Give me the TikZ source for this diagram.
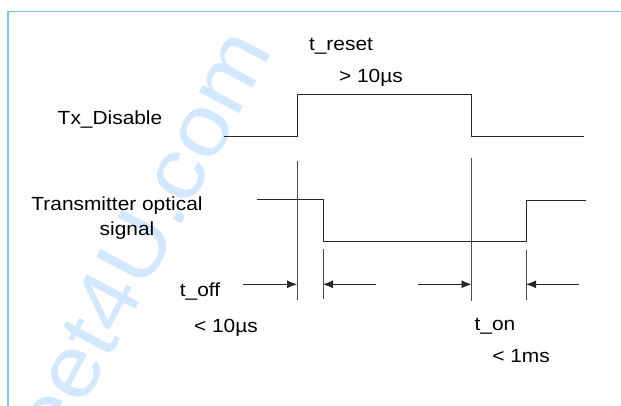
\documentclass[tikz,border=0pt]{standalone}
\usepackage{fontspec}
\setmainfont[FakeStretch=1.1]{Liberation Sans}
\usetikzlibrary{arrows.meta}
\definecolor{framecol}{RGB}{120,200,255}
\definecolor{markcol}{RGB}{210,232,255}
\tikzset{
	lbl/.style={inner sep=0pt, anchor=base, font=\fontsize{19}{22}\selectfont},
	wave/.style={line width=0.8pt, black!85},
	marker/.style={line width=0.8pt, black!70},
	timearrow/.style={line width=0.8pt, black!85, -{Latex[length=10pt,width=8pt]}},
}
\begin{document}
\begin{tikzpicture}[x=1pt,y=-1pt]
	\useasboundingbox (0,0) rectangle (621,406);
	\clip (0,0) rectangle (621,406);
	% watermark and frame
	\node[markcol, rotate=62, anchor=base east, inner sep=0pt, font=\fontsize{86}{90}\selectfont] (wm) at (274,50) {datasheet4U.com};
	\draw[framecol, line width=1.6pt] (8,410) -- (8,11.5) -- (625,11.5);
	
	% labels
	\node[lbl] (treset) at (341,51) {t\_reset};
	\node[lbl] (tresetval) at (371,83) {> 10µs};
	\node[lbl] (txdis) at (110,125) {Tx\_Disable};
	\node[lbl] (optic) at (117,210.5) {Transmitter optical};
	\node[lbl] (signal) at (127,236) {signal};
	\node[lbl] (toff) at (200,296.5) {t\_off};
	\node[lbl] (toffval) at (226,332) {< 10µs};
	\node[lbl] (ton) at (495,330) {t\_on};
	\node[lbl] (tonval) at (521,362) {< 1ms};
	
	% waveforms
	\draw[wave] (224,136) -- (297,136) -- (297,94.7) -- (471.5,94.7) -- (471.5,136) -- (584,136);
	\draw[wave] (257,199) -- (323,199) -- (323,241.7) -- (526,241.7) -- (526,200) -- (586,200);
	
	% timing markers
	\coordinate (dis top) at (297,160.7);
	\coordinate (dis bot) at (297,300);
	\coordinate (off top) at (323,249);
	\coordinate (off bot) at (323,299);
	\coordinate (en top) at (471.5,158);
	\coordinate (en bot) at (471.5,300.7);
	\coordinate (on top) at (526,250);
	\coordinate (on bot) at (526,300);
	\draw[marker] (dis top) -- (dis bot);
	\draw[marker] (off top) -- (off bot);
	\draw[marker] (en top) -- (en bot);
	\draw[marker] (on top) -- (on bot);
	
	\coordinate (a1) at (243,284.3);
	\coordinate (a2) at (376,284.3);
	\coordinate (a3) at (418,284.3);
	\coordinate (a4) at (579,284.3);
	\draw[timearrow] (a1) -- (a1 -| dis top);
	\draw[timearrow] (a2) -- (a2 -| off top);
	\draw[timearrow] (a3) -- (a3 -| en top);
	\draw[timearrow] (a4) -- (a4 -| on top);
\end{tikzpicture}
\end{document}
